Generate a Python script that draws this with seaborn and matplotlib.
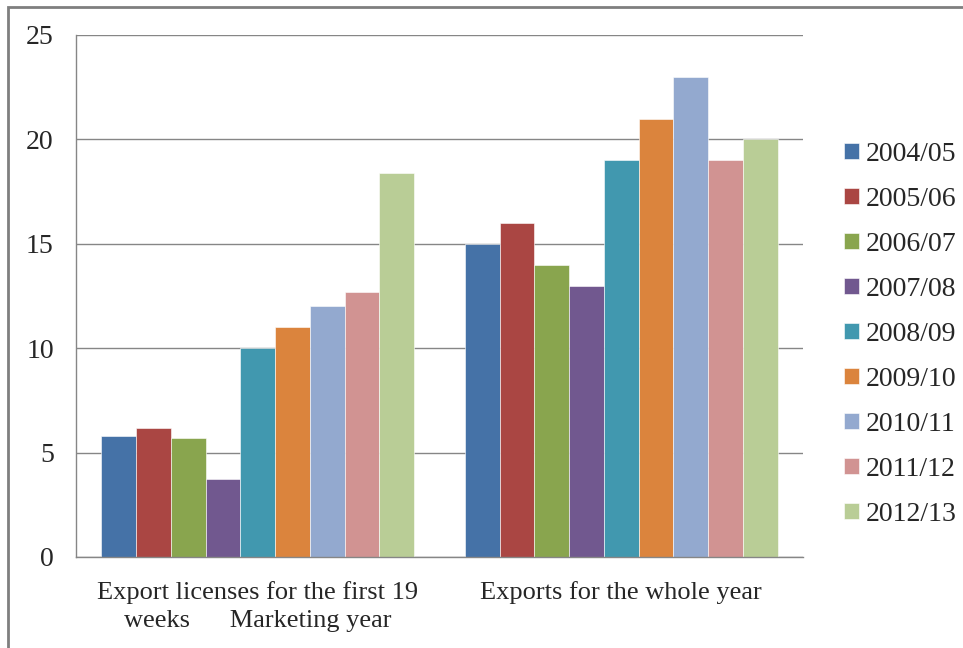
import numpy as np
import pandas as pd
import matplotlib
matplotlib.use("Agg")
import matplotlib.pyplot as plt
import seaborn as sns
from matplotlib.patches import Rectangle

# ========== data ==========
categories = [
    "Export licenses for the first 19\nweeks      Marketing year",
    "Exports for the whole year",
]
years = ["2004/05", "2005/06", "2006/07", "2007/08", "2008/09",
         "2009/10", "2010/11", "2011/12", "2012/13"]
licenses_19w = [5.8, 6.2, 5.7, 3.75, 10, 11, 12, 12.7, 18.4]
exports_year = [15, 16, 14, 13, 19, 21, 23, 19, 20]
colors = ["#4572A7", "#AA4643", "#89A54E", "#71588F", "#4198AF",
          "#DB843D", "#93A9CF", "#D19392", "#B9CD96"]

rows = []
for y, a, b in zip(years, licenses_19w, exports_year):
    rows.append({"category": categories[0], "year": y, "value": a})
    rows.append({"category": categories[1], "year": y, "value": b})
df = pd.DataFrame(rows)

sns.set_style("white")
plt.rcParams["font.family"] = ["Liberation Serif", "DejaVu Serif"]

GRAY = "#868686"
FS = 20

fig = plt.figure(figsize=(9.63, 6.48), dpi=100)
ax = fig.add_axes([76 / 963, 1 - 557 / 648, (803 - 76) / 963, (557 - 35) / 648])

sns.barplot(data=df, x="category", y="value", hue="year", order=categories,
            hue_order=years, palette=colors, width=0.86, gap=0,
            saturation=1, linewidth=0.4, edgecolor="white", ax=ax, legend=True)

ax.set_ylim(0, 25)
ax.set_xlim(-0.5, 1.5)
ax.set_yticks(np.arange(0, 26, 5))
ax.yaxis.grid(True, color=GRAY, linewidth=1)
ax.set_axisbelow(True)
ax.set_xlabel("")
ax.set_ylabel("")

for side in ["top", "right"]:
    ax.spines[side].set_visible(False)
for side in ["left", "bottom"]:
    ax.spines[side].set_color(GRAY)
    ax.spines[side].set_linewidth(1)

ax.tick_params(axis="y", length=7, color=GRAY, width=1, pad=9, labelsize=FS, direction="out")
ax.tick_params(axis="x", which="major", length=0, pad=17, labelsize=19)
ax.set_xticks([-0.5, 0.5, 1.5], minor=True)
ax.tick_params(axis="x", which="minor", length=5, color=GRAY, width=1, direction="out")
for lbl in ax.get_xticklabels():
    lbl.set_linespacing(1.35)
    lbl.set_verticalalignment("top")

# legend on the right
handles, labels = ax.get_legend_handles_labels()
ax.get_legend().remove()
fig.legend(handles, labels, loc="upper left", bbox_to_anchor=(833 / 963, 1 - 131 / 648),
           frameon=False, fontsize=FS, handlelength=0.52, handleheight=0.52,
           handletextpad=0.25, labelspacing=0.72, borderaxespad=0)

# outer chart border (cropped by image edge on right/bottom)
fig.patches.append(Rectangle((8 / 963, -0.05), 1.1, 1 - 7 / 648 + 0.05,
                             transform=fig.transFigure, fill=False,
                             edgecolor="#7f7f7f", linewidth=2))

fig.savefig("out.png", dpi=100)
